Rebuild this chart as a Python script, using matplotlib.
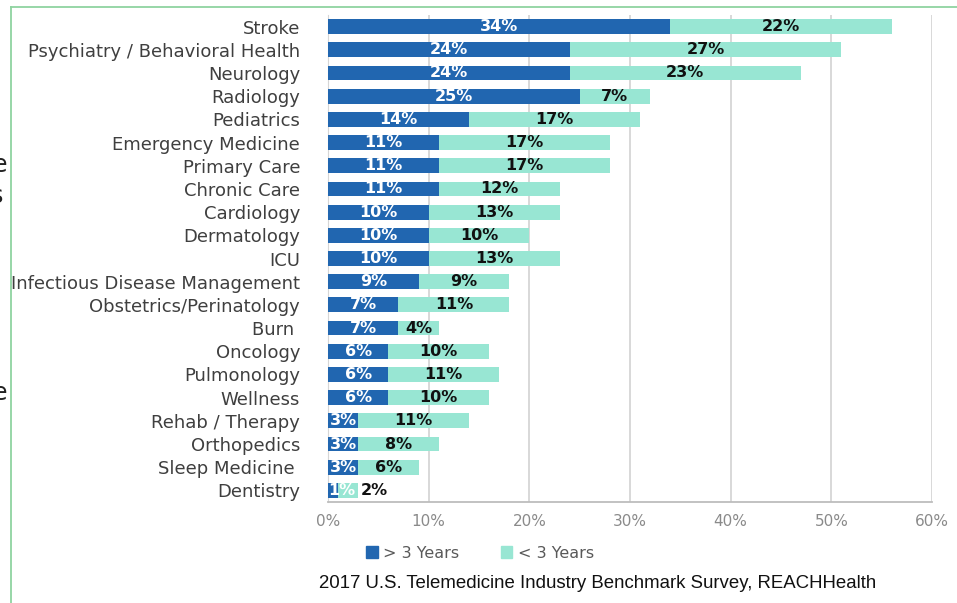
import numpy as np
import matplotlib.pyplot as plt
from matplotlib.patches import Patch
from matplotlib.lines import Line2D

specialties = ["Stroke", "Psychiatry / Behavioral Health", "Neurology", "Radiology",
               "Pediatrics", "Emergency Medicine", "Primary Care", "Chronic Care",
               "Cardiology", "Dermatology", "ICU", "Infectious Disease Management",
               "Obstetrics/Perinatology", "Burn ", "Oncology", "Pulmonology",
               "Wellness", "Rehab / Therapy", "Orthopedics", "Sleep Medicine ",
               "Dentistry"]
over_3 = [34, 24, 24, 25, 14, 11, 11, 11, 10, 10, 10, 9, 7, 7, 6, 6, 6, 3, 3, 3, 1]
under_3 = [22, 27, 23, 7, 17, 17, 17, 12, 13, 10, 13, 9, 11, 4, 10, 11, 10, 11, 8, 6, 2]
ticks = [0, 10, 20, 30, 40, 50, 60]

blue = "#2166B0"
teal = "#98E6D3"

fig = plt.figure(figsize=(9.57, 6.03), dpi=100)
ax = fig.add_axes([328 / 957, 1 - 502 / 603, 604 / 957, 487 / 603])

y = np.arange(len(specialties))
ax.barh(y, over_3, height=0.64, color=blue, zorder=3)
ax.barh(y, under_3, left=over_3, height=0.64, color=teal, zorder=3)

for i, (a, b) in enumerate(zip(over_3, under_3)):
    ax.text(max(a / 2, 1.4), i, f"{a}%", ha="center", va="center", color="white",
            fontsize=11.5, fontweight="bold", zorder=4, clip_on=True)
    if b <= 2:
        ax.text(a + b + 0.3, i, f"{b}%", ha="left", va="center", color="#111111",
                fontsize=11.5, fontweight="bold", zorder=4)
    else:
        ax.text(a + b / 2, i, f"{b}%", ha="center", va="center", color="#111111",
                fontsize=11.5, fontweight="bold", zorder=4)

ax.set_ylim(len(specialties) - 0.5, -0.5)
ax.set_xlim(0, 60)
ax.set_xticks(ticks)
ax.set_xticklabels([f"{t}%" for t in ticks], color="#8a8a8a", fontsize=11)
ax.set_yticks(y)
ax.set_yticklabels(specialties, color="#3f3f3f", fontsize=13)
ax.tick_params(axis="y", length=0, pad=20)
ax.tick_params(axis="x", length=0, pad=9)

ax.grid(axis="x", color="#d6d6d6", linewidth=1.3, zorder=0)
for side in ["top", "right"]:
    ax.spines[side].set_visible(False)
ax.spines["left"].set_color("#d6d6d6")
ax.spines["bottom"].set_color("#bdbdbd")
ax.spines["bottom"].set_linewidth(1.3)

handles = [Patch(color=blue, label="> 3 Years"), Patch(color=teal, label="< 3 Years")]
leg = fig.legend(handles=handles, loc="center", bbox_to_anchor=(480 / 957, 1 - 553 / 603),
                 ncol=2, frameon=False, fontsize=11.5, handlelength=0.7, handleheight=0.7,
                 handletextpad=0.35, columnspacing=2.6)
for t in leg.get_texts():
    t.set_color("#595959")

fig.text(598 / 957, 1 - 583 / 603,
         "2017 U.S. Telemedicine Industry Benchmark Survey, REACHHealth",
         ha="center", va="center", fontsize=13.4, family="Liberation Sans", color="#111111")

# frame of the slide behind the chart
fig.add_artist(Line2D([11 / 957, 1], [1 - 7 / 603, 1 - 7 / 603], color="#8fd3a0", lw=1.3))
fig.add_artist(Line2D([11 / 957, 11 / 957], [0, 1 - 7 / 603], color="#8fd3a0", lw=1.3))
for yy, xx, s in [(165, 7, "e"), (196, 3, "s"), (393, 7, "e")]:
    fig.text(xx / 957, 1 - yy / 603, s, ha="right", va="center", fontsize=17, color="#222222")

fig.savefig("out.png", dpi=100)
